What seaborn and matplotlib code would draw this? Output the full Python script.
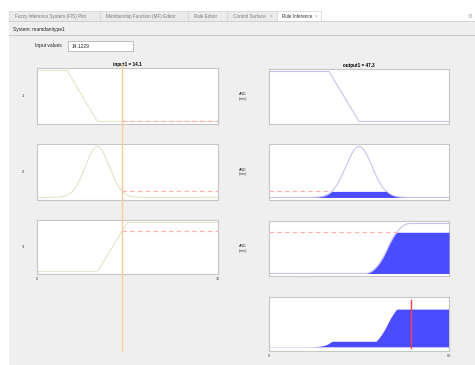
import numpy as np
import matplotlib
matplotlib.use("Agg")
import matplotlib.pyplot as plt
import seaborn as sns
from matplotlib.patches import Rectangle
from matplotlib.lines import Line2D
from matplotlib.transforms import blended_transform_factory

# ---------------- fuzzy system ----------------
system_name = "mamdanitype1"
input_name = "input1"
output_name = "output1"
input_range = [0, 30]
output_range = [0, 60]
input_value = 14.1229
output_value = 47.3
rule_labels = ["1", "2", "3"]
in_mf_types = ["trapmf", "gaussmf", "trapmf"]
in_mf_params = [[-5, 0, 5, 10], [2.0, 10.0], [10, 15, 30, 35]]
out_mf_types = ["trapmf", "gaussmf", "smf"]
out_mf_params = [[-10, 0, 20, 30], [4.4, 30.0], [32, 47]]
in_tick_labels = ["0", "30"]
out_tick_labels = ["0", "60"]
tab_labels = ["Fuzzy Inference System (FIS) Plot", "Membership Function (MF) Editor",
              "Rule Editor", "Control Surface", "Rule Inference"]


def trapmf(x, p):
    a, b, c, d = p
    up = np.where(b > a, (x - a) / max(b - a, 1e-9), 1.0)
    down = np.where(d > c, (d - x) / max(d - c, 1e-9), 1.0)
    return np.clip(np.minimum(np.minimum(up, 1.0), down), 0, 1)


def gaussmf(x, p):
    s, c = p
    return np.exp(-((x - c) ** 2) / (2 * s ** 2))


def smf(x, p):
    a, b = p
    m = (a + b) / 2
    y = np.zeros_like(x, dtype=float)
    r1 = (x > a) & (x <= m)
    r2 = (x > m) & (x < b)
    y[r1] = 2 * ((x[r1] - a) / (b - a)) ** 2
    y[r2] = 1 - 2 * ((x[r2] - b) / (b - a)) ** 2
    y[x >= b] = 1
    return y


MF = {"trapmf": trapmf, "gaussmf": gaussmf, "smf": smf}

xs_in = np.linspace(input_range[0], input_range[1], 601)
xs_out = np.linspace(output_range[0], output_range[1], 1201)
firing = [float(MF[t](np.array([input_value]), p)[0]) for t, p in zip(in_mf_types, in_mf_params)]

# ---------------- figure ----------------
W, H = 475, 365
fig = plt.figure(figsize=(W / 100, H / 100), dpi=100)
fig.patch.set_facecolor("white")
FONT = ["Liberation Sans", "DejaVu Sans"]


def frect(x0, y0, x1, y1):
    return [x0 / W, 1 - y1 / H, (x1 - x0) / W, (y1 - y0) / H]


def fx(x):
    return x / W


def fy(y):
    return 1 - y / H


def add_rect(x0, y0, x1, y1, fc, ec="none", lw=0.0, z=-10):
    fig.patches.append(Rectangle((fx(x0), fy(y1)), (x1 - x0) / W, (y1 - y0) / H,
                                 transform=fig.transFigure, facecolor=fc, edgecolor=ec,
                                 linewidth=lw, zorder=z))


def ftext(x, y, s, size, color="#222222", **kw):
    fig.text(fx(x), fy(y), s, fontsize=size, color=color, family=FONT, **kw)


# panel background
add_rect(9, 21, 475, 365, "#efefef", z=-20)
# tab strip
tab_edges = [9, 100, 188, 227, 276.5, 321]
for i, lab in enumerate(tab_labels):
    x0, x1 = tab_edges[i], tab_edges[i + 1]
    active = i == len(tab_labels) - 1
    add_rect(x0, 11, x1, 21, "white" if active else "#ebebeb", "#d2d2d2", 0.5)
    ftext(x0 + 6, 16.5, lab, 3.3, "#333333" if active else "#7a7a7a", va="center")
    if i >= 3:
        ftext(x1 - 5, 16.5, "\u00d7", 3.3, "#9a9a9a", va="center", ha="center")
fig.lines.append(Line2D([fx(9), fx(475)], [fy(21), fy(21)], transform=fig.transFigure,
                        color="#cfcfcf", lw=0.6, zorder=-5))
fig.text(fx(470), fy(16.5), "\u2699", fontsize=4, color="#9a9a9a", ha="center", va="center",
         family=["DejaVu Sans"])
# header
ftext(13, 29, f"System: {system_name}", 3.5, "#222222", va="center")
fig.lines.append(Line2D([fx(9), fx(475)], [fy(35), fy(35)], transform=fig.transFigure,
                        color="#c4c4c4", lw=0.7, zorder=-5))
ftext(35, 46, "Input values", 3.5, "#222222", va="center")
add_rect(68, 41, 133, 50.5, "white", "#a8a8a8", 0.5)
ftext(72, 46, f"{input_value:.4f}", 3.5, "#222222", va="center")

# ---------------- axes ----------------
left_rows = [(68, 124), (144, 200), (220, 274)]
right_rows = [(69, 124), (144, 200), (221, 276)]
LX = (37, 218)
RX = (269, 449)

in_color = "#e2e4c6"
out_color = "#c4c4ee"
fill_color = "#4b4bff"
dash_color = "#ffb4b4"
dash = (0, (3.6, 2.6))


def style_axes(ax, xr):
    ax.set_facecolor("white")
    ax.set_xlim(*xr)
    ax.set_ylim(-0.05, 1.05)
    ax.set_xticks([])
    ax.set_yticks([])
    ax.set_xlabel("")
    ax.set_ylabel("")
    for s in ax.spines.values():
        s.set_color("#c6c6c6")
        s.set_linewidth(0.8)


in_axes, out_axes = [], []
for i in range(3):
    # input membership function
    ax = fig.add_axes(frect(LX[0], left_rows[i][0], LX[1], left_rows[i][1]))
    y_in = MF[in_mf_types[i]](xs_in, in_mf_params[i])
    sns.lineplot(x=xs_in, y=y_in, ax=ax, color=in_color, linewidth=0.8,
                 estimator=None, sort=False)
    ax.plot([input_value, input_range[1]], [firing[i], firing[i]], color=dash_color,
            lw=0.9, linestyle=dash)
    style_axes(ax, input_range)
    in_axes.append(ax)
    ftext(23, sum(left_rows[i]) / 2, rule_labels[i], 3.0, "#333333", ha="center", va="center")

    # output membership function with implication
    ax = fig.add_axes(frect(RX[0], right_rows[i][0], RX[1], right_rows[i][1]))
    y_out = MF[out_mf_types[i]](xs_out, out_mf_params[i])
    sns.lineplot(x=xs_out, y=y_out, ax=ax, color=out_color, linewidth=0.8,
                 estimator=None, sort=False)
    w = firing[i]
    if w > 1e-6:
        ax.fill_between(xs_out, 0, np.minimum(y_out, w), color=fill_color, lw=0, zorder=3)
        x_cross = xs_out[np.argmax(y_out >= w)]
        ax.plot([output_range[0], x_cross], [w, w], color=dash_color, lw=0.9,
                linestyle=dash, zorder=2)
    style_axes(ax, output_range)
    out_axes.append(ax)
    ftext(243, sum(right_rows[i]) / 2, "AND\n(min)", 2.6, "#333333", ha="center",
          va="center", linespacing=1.1)

in_axes[0].set_title(f"{input_name} = {input_value:.1f}", fontsize=3.3, fontweight="bold",
                     pad=1.5, family=FONT)
out_axes[0].set_title(f"{output_name} = {output_value:.1f}", fontsize=3.3, fontweight="bold",
                      pad=1.5, family=FONT)

ax = in_axes[2]
ax.set_xticks(input_range)
ax.set_xticklabels(in_tick_labels, fontsize=2.8, color="#444444", family=FONT)
ax.tick_params(axis="x", length=0, pad=2.0)

# aggregated output
agg = np.zeros_like(xs_out)
for t, p, w in zip(out_mf_types, out_mf_params, firing):
    agg = np.maximum(agg, np.minimum(MF[t](xs_out, p), w))
axa = fig.add_axes(frect(RX[0], 297, RX[1], 351))
axa.fill_between(xs_out, 0, agg, color=fill_color, lw=0, zorder=2)
axa.plot(output_range, [0, 0], color="#e4e4f4", lw=0.8, zorder=1)
axa.plot([output_value, output_value], [-0.03, 1.02], color="#ff3d4f", lw=1.0, zorder=4)
style_axes(axa, output_range)
axa.set_ylim(-0.094, 1.09)
axa.set_xticks(output_range)
axa.set_xticklabels(out_tick_labels, fontsize=2.8, color="#444444", family=FONT)
axa.tick_params(axis="x", length=0, pad=2.0)

# input marker running through all rule rows
tr = blended_transform_factory(in_axes[0].transData, fig.transFigure)
fig.lines.append(Line2D([input_value, input_value], [fy(64), fy(351)], transform=tr,
                        color="#ffc996", lw=1.0, zorder=10))

fig.savefig("out.png", dpi=100, facecolor=fig.get_facecolor())
